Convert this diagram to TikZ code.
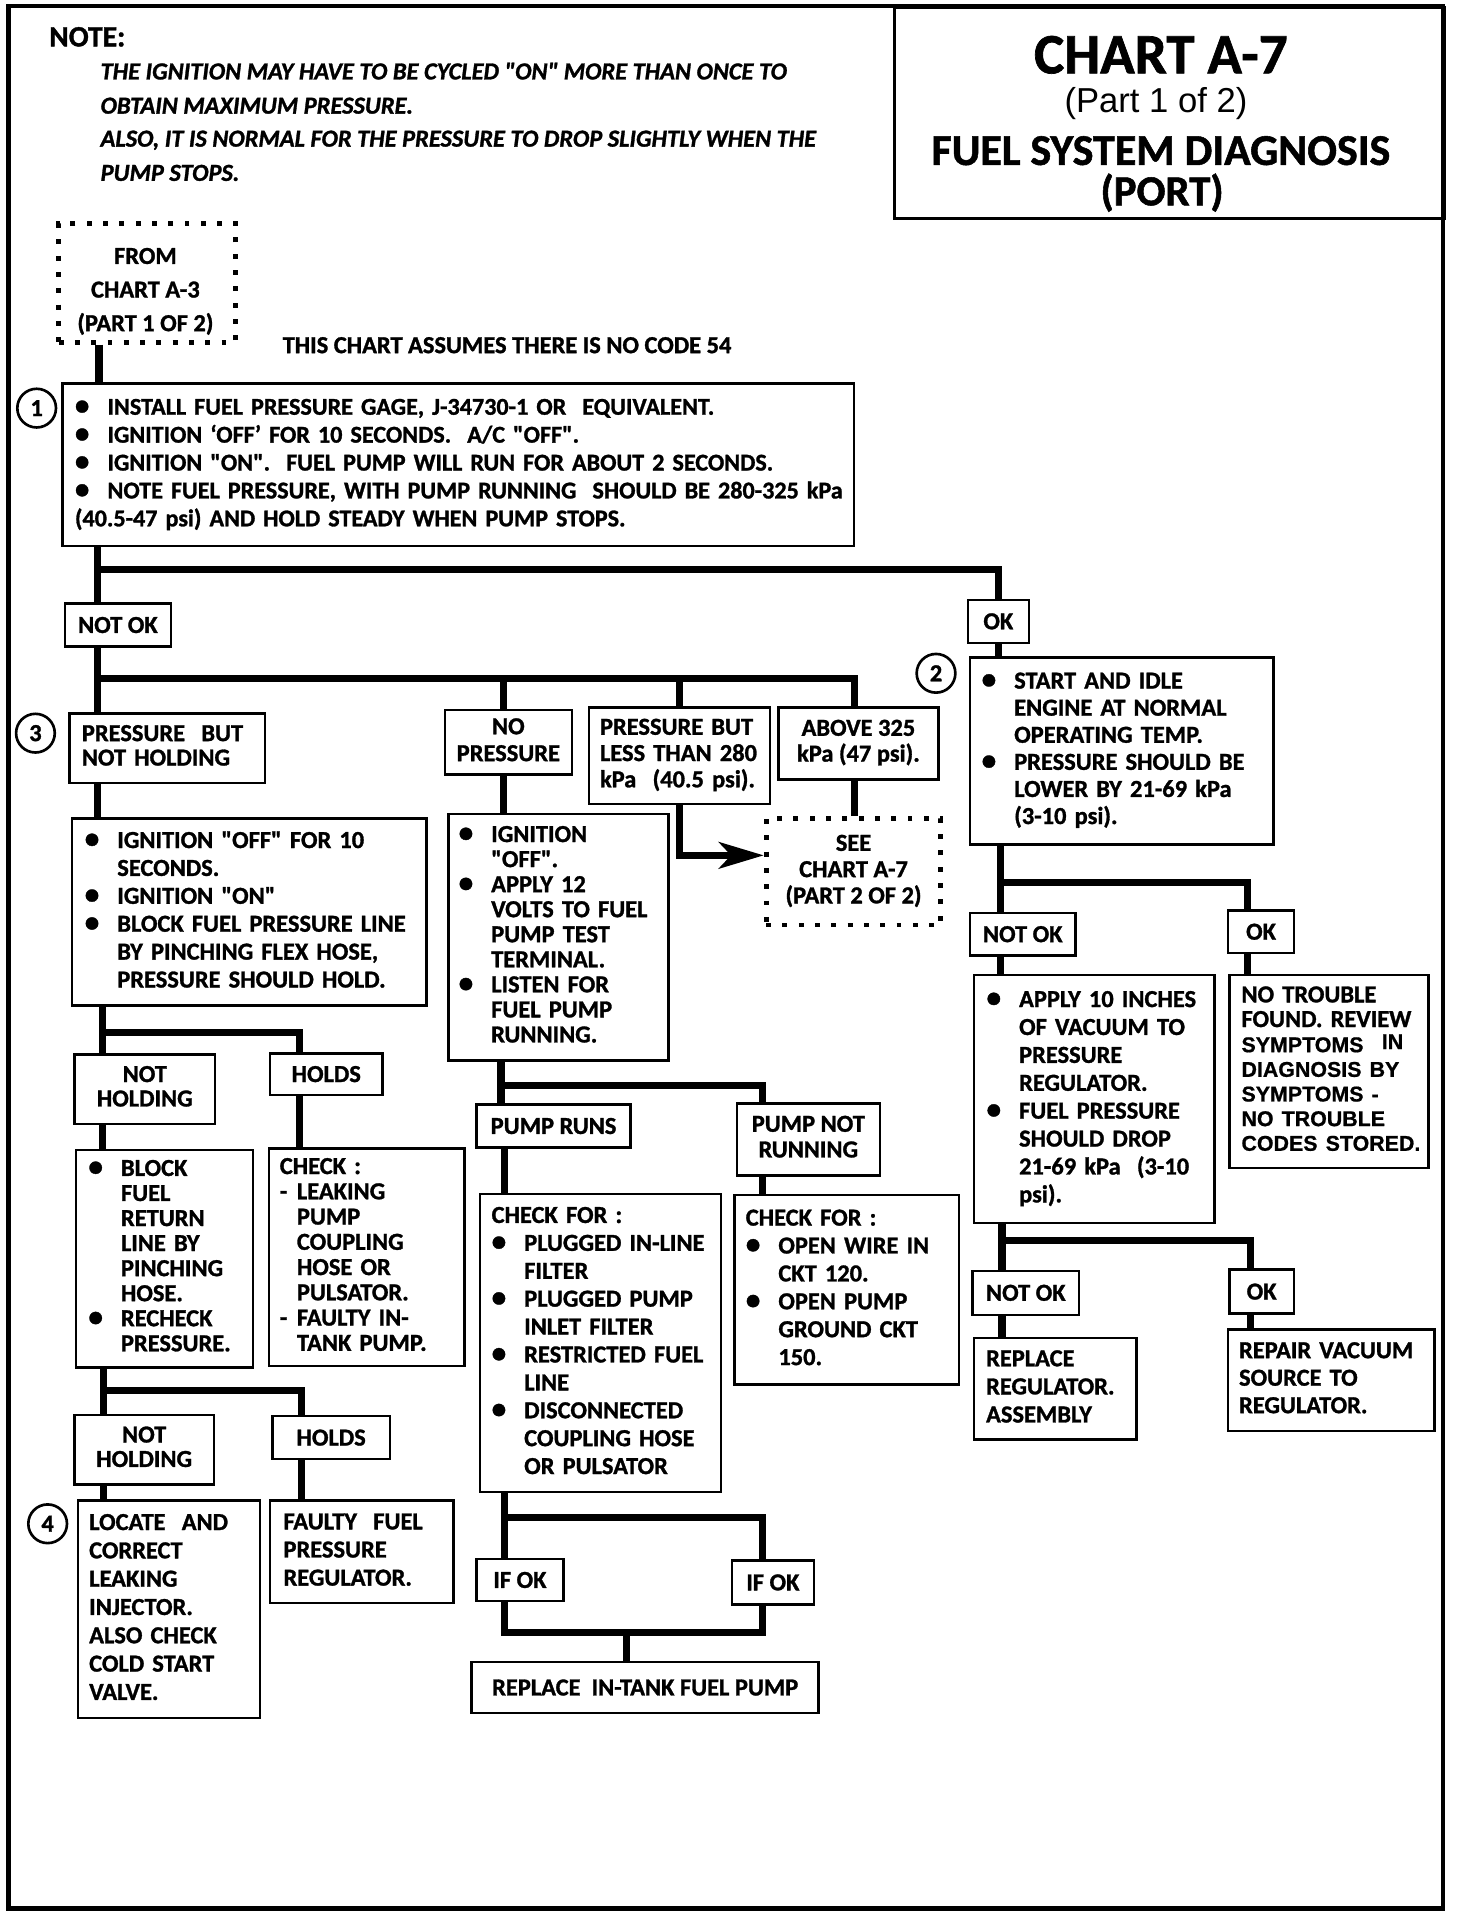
\documentclass[tikz,border=0pt]{standalone}
\usepackage{fontspec}
\setmainfont{Carlito}[Ligatures=TeXOff, BoldFeatures={FakeBold=1.2}, BoldItalicFeatures={FakeBold=1.2}]
\newfontfamily\arialf{Liberation Sans}[Ligatures=TeXOff, BoldFeatures={FakeBold=0.8}]
\usetikzlibrary{arrows.meta}
\newcommand\bulx{\makebox[16pt][l]{\scalebox{1.2}{•}}}
\newcommand\indx{\hspace*{16pt}}
\newcommand\dshx{\makebox[8.4pt][l]{-}}
\newcommand\dindx{\hspace*{8.4pt}}
\newcommand\fsz[1]{\fontsize{12pt}{#1pt}\selectfont}
\newcommand\afnt{\arialf\bfseries\fontsize{10.5pt}{12pt}\selectfont}
\tikzset{
  box/.style={draw, line width=1.2pt, rectangle, anchor=north west, inner ysep=0pt},
  lbox/.style={box, align=left},
  cbox/.style={box, inner xsep=0pt, align=center},
  sz/.style 2 args={minimum width=#1pt, minimum height=#2pt},
  tw/.style 2 args={inner xsep=#1pt, text width=#2pt},
  conn/.style={line width=3.5pt, line join=miter},
  dotbox/.style={draw, line width=2.4pt, dash pattern=on 2.4pt off 5.6pt, anchor=north west, inner sep=0pt, align=center},
  num/.style={circle, draw, line width=1.3pt, minimum size=19pt, inner sep=0pt, font=\bfseries\fontsize{12pt}{14pt}\selectfont},
  txt/.style={inner sep=0pt},
}
\begin{document}
\begin{tikzpicture}[x=0.6pt,y=-0.6pt]
\useasboundingbox (0,0) rectangle (1192,1568);
\draw[line width=2.2pt] (7,5) rectangle (1181,1562);

% title
\node[box, line width=1.4pt, sz={270}{103.8}] (title) at (731,5) {};
\node[txt, anchor=base, font=\bfseries\fontsize{28pt}{30pt}\selectfont] (t1) at (950,60) {CHART A-7};
\node[txt, anchor=base, font=\arialf\fontsize{17pt}{19pt}\selectfont] (t2) at (946,92) {(Part 1 of 2)};
\node[txt, anchor=base, font=\bfseries\fontsize{21.6pt}{24pt}\selectfont] (t3) at (950,135) {FUEL SYSTEM DIAGNOSIS};
\node[txt, anchor=base, font=\bfseries\fontsize{21pt}{24pt}\selectfont] (t4) at (951,168) {(PORT)};

% note
\node[txt, anchor=base west, font=\bfseries\fontsize{14.5pt}{16pt}\selectfont] (note0) at (40,38) {NOTE:};
\node[txt, anchor=base west, font=\bfseries\itshape\fontsize{12pt}{14pt}\selectfont] (note1) at (82,65) {THE IGNITION MAY HAVE TO BE CYCLED "ON" MORE THAN ONCE TO};
\node[txt, anchor=base west, font=\bfseries\itshape\fontsize{12pt}{14pt}\selectfont] (note2) at (82,93) {OBTAIN MAXIMUM PRESSURE.};
\node[txt, anchor=base west, font=\bfseries\itshape\fontsize{12pt}{14pt}\selectfont] (note3) at (82,120) {ALSO, IT IS NORMAL FOR THE PRESSURE TO DROP SLIGHTLY WHEN THE};
\node[txt, anchor=base west, font=\bfseries\itshape\fontsize{12pt}{14pt}\selectfont] (note4) at (82,148) {PUMP STOPS.};

\node[dotbox, sz={87}{58.2}] (from) at (46,181) {};
\node[txt, align=center, font=\bfseries\fsz{16.5}] (fromtxt) at (119,238) {\begin{tabular}{@{}c@{}}FROM\\CHART A-3\\(PART 1 OF 2)\end{tabular}};
\node[txt, anchor=base west, font=\bfseries\fsz{14}] (assume) at (231,289) {THIS CHART ASSUMES THERE IS NO CODE 54};

% step 1
\node[lbox, sz={388.8}{79.8}, tw={6.2}{376.4}, font=\bfseries\fontsize{11.85pt}{13.7pt}\selectfont] (b1) at (50,313) {\noindent\begin{tabular}{@{}l@{}}
\bulx INSTALL FUEL PRESSURE GAGE, J-34730-1 OR\ \ EQUIVALENT.\\
\bulx IGNITION ‘OFF’ FOR 10 SECONDS.\ \ A/C "OFF".\\
\bulx IGNITION "ON".\ \ FUEL PUMP WILL RUN FOR ABOUT 2 SECONDS.\\
\bulx NOTE FUEL PRESSURE, WITH PUMP RUNNING\ \ SHOULD BE 280-325 kPa\\
(40.5-47 psi) AND HOLD STEADY WHEN PUMP STOPS.
\end{tabular}};
\node[num] (c1) at (30,334) {1};

\node[cbox, sz={52.2}{21}, font=\bfseries\fsz{14}] (nok1) at (52,493) {NOT OK};
\node[cbox, sz={30}{21}, font=\bfseries\fsz{14}] (ok1) at (791,490) {OK};

% not ok branch
\node[lbox, sz={96}{34.2}, tw={6}{84}, font=\bfseries\fsz{12}] (pbnh) at (56,583) {\noindent\begin{tabular}{@{}l@{}}PRESSURE\ \ BUT\\NOT HOLDING\end{tabular}};
\node[num] (c3) at (29,600) {3};
\node[cbox, sz={62.4}{31.8}, font=\bfseries\fsz{13.2}] (np) at (363,580) {\begin{tabular}{@{}c@{}}NO\\PRESSURE\end{tabular}};
\node[lbox, sz={88.8}{47.4}, tw={5.4}{78}, font=\bfseries\fsz{12.9}] (pblt) at (481,578) {\noindent\begin{tabular}{@{}l@{}}PRESSURE BUT\\LESS THAN 280\\kPa\ \ (40.5 psi).\end{tabular}};
\node[cbox, sz={78.6}{35.4}, font=\bfseries\fsz{12.6}] (above) at (636,578) {\begin{tabular}{@{}c@{}}ABOVE 325\\kPa (47 psi).\end{tabular}};
\node[dotbox, sz={85.8}{52.2}, font=\bfseries\fsz{12.9}] (see) at (625,668) {\begin{tabular}{@{}c@{}}SEE\\CHART A-7\\(PART 2 OF 2)\end{tabular}};

\node[lbox, sz={174}{91.8}, tw={6.2}{161.6}, font=\bfseries\fsz{13.7}] (ign1) at (58,669) {\noindent\begin{tabular}{@{}l@{}}
\bulx IGNITION "OFF" FOR 10\\
\indx SECONDS.\\
\bulx IGNITION "ON"\\
\bulx BLOCK FUEL PRESSURE LINE\\
\indx BY PINCHING FLEX HOSE,\\
\indx PRESSURE SHOULD HOLD.
\end{tabular}};

\node[lbox, sz={108}{121.2}, tw={5}{98}, font=\bfseries\fsz{12.3}] (ign2) at (366,665) {\noindent\begin{tabular}{@{}l@{}}
\bulx IGNITION\\
\indx "OFF".\\
\bulx APPLY 12\\
\indx VOLTS TO FUEL\\
\indx PUMP TEST\\
\indx TERMINAL.\\
\bulx LISTEN FOR\\
\indx FUEL PUMP\\
\indx RUNNING.
\end{tabular}};

% left lower
\node[cbox, sz={69}{34.2}, font=\bfseries\fsz{12}] (nh1) at (60,862) {\begin{tabular}{@{}c@{}}NOT\\HOLDING\end{tabular}};
\node[cbox, sz={55.2}{20.4}, font=\bfseries\fsz{14}] (holds1) at (220,861) {HOLDS};
\node[lbox, sz={87}{106.8}, tw={6.2}{74.6}, font=\bfseries\fsz{12.3}] (block) at (61,940) {\noindent\begin{tabular}{@{}l@{}}
\bulx BLOCK\\
\indx FUEL\\
\indx RETURN\\
\indx LINE BY\\
\indx PINCHING\\
\indx HOSE.\\
\bulx RECHECK\\
\indx PRESSURE.
\end{tabular}};
\node[lbox, sz={96}{106.8}, tw={5.4}{85.2}, font=\bfseries\fsz{12.4}] (check) at (219,939) {\noindent\begin{tabular}{@{}l@{}}
CHECK :\\
\dshx LEAKING\\
\dindx PUMP\\
\dindx COUPLING\\
\dindx HOSE OR\\
\dindx PULSATOR.\\
\dshx FAULTY IN-\\
\dindx TANK PUMP.
\end{tabular}};
\node[cbox, sz={68.4}{34.2}, font=\bfseries\fsz{12}] (nh2) at (60,1157) {\begin{tabular}{@{}c@{}}NOT\\HOLDING\end{tabular}};
\node[cbox, sz={57.6}{21}, font=\bfseries\fsz{14}] (holds2) at (222,1158) {HOLDS};
\node[lbox, sz={89.4}{106.8}, tw={5.4}{78.6}, font=\bfseries\fsz{13.9}] (locate) at (63,1227) {\noindent\begin{tabular}{@{}l@{}}
LOCATE\ \ AND\\
CORRECT\\
LEAKING\\
INJECTOR.\\
ALSO CHECK\\
COLD START\\
VALVE.
\end{tabular}};
\node[num] (c4) at (39,1247) {4};
\node[lbox, sz={90}{50.4}, tw={6.6}{76.8}, font=\bfseries\fsz{13.8}] (faulty) at (220,1227) {\noindent\begin{tabular}{@{}l@{}}
FAULTY\ \ FUEL\\
PRESSURE\\
REGULATOR.
\end{tabular}};

% middle lower
\node[cbox, sz={75.6}{21}, font=\bfseries\fsz{14}] (pruns) at (389,903) {PUMP RUNS};
\node[cbox, sz={70.2}{35.4}, font=\bfseries\fsz{12.6}] (pnr) at (602,902) {\begin{tabular}{@{}c@{}}PUMP NOT\\RUNNING\end{tabular}};
\node[lbox, sz={118.2}{146.4}, tw={5.6}{107}, font=\bfseries\fsz{13.7}] (cf1) at (392,976) {\noindent\begin{tabular}{@{}l@{}}
CHECK FOR :\\
\bulx PLUGGED IN-LINE\\
\indx FILTER\\
\bulx PLUGGED PUMP\\
\indx INLET FILTER\\
\bulx RESTRICTED FUEL\\
\indx LINE\\
\bulx DISCONNECTED\\
\indx COUPLING HOSE\\
\indx OR PULSATOR
\end{tabular}};
\node[lbox, sz={110.4}{93}, tw={5.6}{99.2}, font=\bfseries\fsz{13.7}] (cf2) at (600,977) {\noindent\begin{tabular}{@{}l@{}}
CHECK FOR :\\
\bulx OPEN WIRE IN\\
\indx CKT 120.\\
\bulx OPEN PUMP\\
\indx GROUND CKT\\
\indx 150.
\end{tabular}};
\node[cbox, sz={42.6}{20.4}, font=\bfseries\fsz{14}] (ifokl) at (389,1275) {IF OK};
\node[cbox, sz={40.2}{21.6}, font=\bfseries\fsz{14}] (ifokr) at (598,1276) {IF OK};
\node[cbox, sz={170.4}{25.2}, font=\bfseries\fsz{14}] (repl) at (385,1359) {REPLACE\ \ IN-TANK FUEL PUMP};

% right side
\node[lbox, sz={148.8}{91.8}, tw={5.6}{137.6}, font=\bfseries\fsz{13.3}] (b2) at (793,537) {\noindent\begin{tabular}{@{}l@{}}
\bulx START AND IDLE\\
\indx ENGINE AT NORMAL\\
\indx OPERATING TEMP.\\
\bulx PRESSURE SHOULD BE\\
\indx LOWER BY 21-69 kPa\\
\indx (3-10 psi).
\end{tabular}};
\node[num] (c2) at (766,551) {2};
\node[cbox, sz={51.6}{21}, font=\bfseries\fsz{14}] (nok2) at (793,746) {NOT OK};
\node[cbox, sz={32.4}{21}, font=\bfseries\fsz{14}] (ok2) at (1004,744) {OK};
\node[lbox, sz={118.2}{121.8}, tw={6.2}{105.8}, font=\bfseries\fsz{13.7}] (apply) at (796,797) {\noindent\begin{tabular}{@{}l@{}}
\bulx APPLY 10 INCHES\\
\indx OF VACUUM TO\\
\indx PRESSURE\\
\indx REGULATOR.\\
\bulx FUEL PRESSURE\\
\indx SHOULD DROP\\
\indx 21-69 kPa\ \ (3-10\\
\indx psi).
\end{tabular}};
\node[lbox, sz={97.8}{94.8}, tw={6}{85.8}, font=\bfseries\fsz{12.1}] (notr) at (1005,797) {\noindent\begin{tabular}{@{}l@{}}
NO TROUBLE\\
FOUND. REVIEW\\
{\afnt SYMPTOMS\hspace{9pt}\raisebox{1.5pt}{IN}}\\
{\afnt DIAGNOSIS BY}\\
{\afnt SYMPTOMS -}\\
{\afnt NO TROUBLE}\\
{\afnt CODES STORED.}
\end{tabular}};
\node[cbox, sz={52.2}{21.6}, font=\bfseries\fsz{14}] (nok3) at (795,1039) {NOT OK};
\node[cbox, sz={31.8}{21.6}, font=\bfseries\fsz{14}] (ok3) at (1005,1038) {OK};
\node[lbox, sz={79.8}{49.8}, tw={6}{67.8}, font=\bfseries\fsz{13.8}] (repreg) at (796,1094) {\noindent\begin{tabular}{@{}l@{}}
REPLACE\\
REGULATOR.\\
ASSEMBLY
\end{tabular}};
\node[lbox, sz={101.4}{49.8}, tw={5.4}{90.6}, font=\bfseries\fsz{13.5}] (repair) at (1004,1087) {\noindent\begin{tabular}{@{}l@{}}
REPAIR VACUUM\\
SOURCE TO\\
REGULATOR.
\end{tabular}};

% connector coordinates
\coordinate (tr) at (81,0);
\coordinate (j1) at (80,466);
\coordinate (j1e) at (817,466);
\coordinate (j2) at (80,555);
\coordinate (j2e) at (699,555);
\coordinate (j2b) at (412,555);
\coordinate (j2c) at (556,555);
\coordinate (a1) at (556,700);
\coordinate (j3) at (819,722);
\coordinate (j3e) at (1021,722);
\coordinate (j4) at (820,1015);
\coordinate (j4e) at (1023,1015);
\coordinate (j5) at (84,845);
\coordinate (j5e) at (245,845);
\coordinate (j6) at (85,1138);
\coordinate (j6e) at (247,1138);
\coordinate (j7) at (410,888);
\coordinate (j7e) at (624,888);
\coordinate (j8) at (413,1242);
\coordinate (j8e) at (624,1242);
\coordinate (j9) at (413,1336);
\coordinate (j9e) at (624,1336);
\coordinate (j9m) at (513,1336);

% connectors
\draw[conn] (from.south -| tr) -- (b1.north -| tr);
\draw[conn] (b1.south -| j1) -- (nok1.north -| j1);
\draw[conn] (j1) -- (j1e) -- (ok1.north -| j1e);
\draw[conn] (nok1.south -| j2) -- (pbnh.north -| j2);
\draw[conn] (j2) -- (j2e) -- (above.north -| j2e);
\draw[conn] (j2b) -- (np.north -| j2b);
\draw[conn] (j2c) -- (pblt.north -| j2c);
\draw[conn] (pbnh.south -| j2) -- (ign1.north -| j2);
\draw[conn] (np.south -| j2b) -- (ign2.north -| j2b);
\draw[conn, -{Stealth[length=22pt, width=13pt, inset=6pt]}] (pblt.south -| a1) -- (a1) -- (see.west |- a1);
\draw[conn] (above.south -| j2e) -- (see.north -| j2e);
\draw[conn] (ok1.south -| j1e) -- (b2.north -| j1e);
\draw[conn] (b2.south -| j3) -- (nok2.north -| j3);
\draw[conn] (j3) -- (j3e) -- (ok2.north -| j3e);
\draw[conn] (nok2.south -| j3) -- (apply.north -| j3);
\draw[conn] (ok2.south -| j3e) -- (notr.north -| j3e);
\draw[conn] (apply.south -| j4) -- (nok3.north -| j4);
\draw[conn] (j4) -- (j4e) -- (ok3.north -| j4e);
\draw[conn] (nok3.south -| j4) -- (repreg.north -| j4);
\draw[conn] (ok3.south -| j4e) -- (repair.north -| j4e);
\draw[conn] (ign1.south -| j5) -- (nh1.north -| j5);
\draw[conn] (j5) -- (j5e) -- (holds1.north -| j5e);
\draw[conn] (nh1.south -| j5) -- (block.north -| j5);
\draw[conn] (holds1.south -| j5e) -- (check.north -| j5e);
\draw[conn] (block.south -| j6) -- (nh2.north -| j6);
\draw[conn] (j6) -- (j6e) -- (holds2.north -| j6e);
\draw[conn] (nh2.south -| j6) -- (locate.north -| j6);
\draw[conn] (holds2.south -| j6e) -- (faulty.north -| j6e);
\draw[conn] (ign2.south -| j7) -- (pruns.north -| j7);
\draw[conn] (j7) -- (j7e) -- (pnr.north -| j7e);
\draw[conn] (pruns.south -| j8) -- (cf1.north -| j8);
\draw[conn] (pnr.south -| j7e) -- (cf2.north -| j7e);
\draw[conn] (cf1.south -| j8) -- (ifokl.north -| j8);
\draw[conn] (j8) -- (j8e) -- (ifokr.north -| j8e);
\draw[conn] (ifokl.south -| j9) -- (j9) -- (j9e) -- (ifokr.south -| j9e);
\draw[conn] (j9m) -- (repl.north -| j9m);
\end{tikzpicture}
\end{document}
